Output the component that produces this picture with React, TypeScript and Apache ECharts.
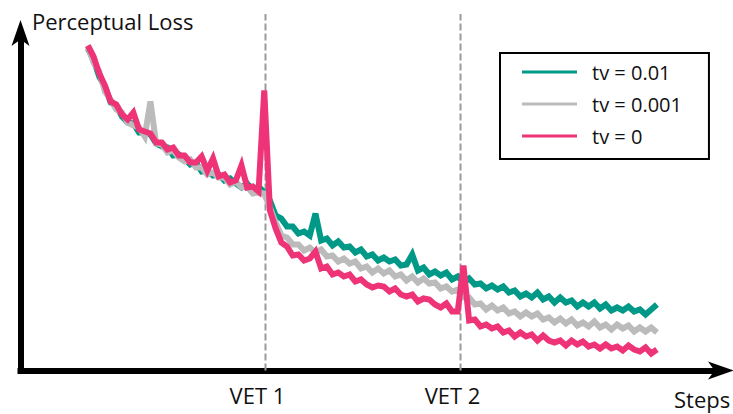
import React, { useEffect, useRef } from "react";
import * as echarts from "echarts";

// Training steps (thousands), sampled every 0.82k from 9.7k
const steps: number[] = Array.from({ length: 101 }, (_, i) => +(9.7 + 0.82 * i).toFixed(2));

// Steps at which a VET event happens
const vetSteps = [35.3, 63.4];
const vetLabels = ["VET 1", "VET 2"];

const seriesNames = ["tv = 0.01", "tv = 0.001", "tv = 0"];
const seriesColors = ["#009988", "#BBBBBB", "#EE3377"];

const lossTv001 = [
  3.22, 3.11, 2.94, 2.84, 2.68, 2.65, 2.54, 2.48, 2.47, 2.38,
  2.38, 2.36, 2.27, 2.24, 2.23, 2.15, 2.16, 2.12, 2.06, 2.08,
  1.99, 2.0, 1.95, 1.96, 1.9, 1.92, 1.87, 1.83, 1.87, 1.8,
  1.84, 1.78, 1.7, 1.55, 1.52, 1.44, 1.44, 1.37, 1.39, 1.35,
  1.57, 1.3, 1.32, 1.25, 1.29, 1.23, 1.24, 1.18, 1.21, 1.14,
  1.16, 1.1, 1.13, 1.09, 1.11, 1.05, 1.06, 1.16, 1.0, 1.03,
  0.96, 0.99, 0.95, 0.98, 0.91, 0.94, 0.88, 0.92, 0.86, 0.87,
  0.82, 0.85, 0.81, 0.84, 0.78, 0.8, 0.74, 0.77, 0.73, 0.78,
  0.71, 0.74, 0.68, 0.73, 0.68, 0.7, 0.64, 0.68, 0.64, 0.68,
  0.62, 0.66, 0.6, 0.63, 0.6, 0.64, 0.59, 0.61, 0.56, 0.61,
  0.66,
];

const lossTv0001 = [
  3.24, 3.08, 2.99, 2.79, 2.71, 2.61, 2.58, 2.48, 2.45, 2.43,
  2.34, 2.69, 2.27, 2.26, 2.18, 2.2, 2.13, 2.09, 2.11, 2.03,
  2.03, 1.96, 1.98, 1.93, 1.93, 1.86, 1.89, 1.83, 1.84, 1.77,
  1.78, 1.77, 1.63, 1.48, 1.35, 1.33, 1.26, 1.26, 1.2, 1.23,
  1.18, 1.21, 1.14, 1.15, 1.09, 1.12, 1.07, 1.09, 1.02, 1.04,
  0.98, 1.02, 0.97, 1.0, 0.94, 0.96, 0.9, 0.94, 0.88, 0.92,
  0.87, 0.88, 0.82, 0.84, 0.79, 0.81, 0.73, 0.73, 0.66, 0.67,
  0.61, 0.65, 0.6, 0.63, 0.57, 0.59, 0.54, 0.58, 0.54, 0.57,
  0.51, 0.53, 0.48, 0.52, 0.47, 0.51, 0.45, 0.48, 0.44, 0.49,
  0.43, 0.46, 0.41, 0.46, 0.42, 0.45, 0.39, 0.43, 0.39, 0.43,
  0.38,
];

const lossTv0 = [
  3.25, 3.14, 2.97, 2.85, 2.69, 2.66, 2.56, 2.51, 2.58, 2.41,
  2.39, 2.37, 2.28, 2.28, 2.21, 2.23, 2.15, 2.15, 2.08, 2.08,
  2.14, 2.0, 2.12, 1.94, 1.96, 1.88, 1.9, 2.05, 1.83, 1.84,
  1.79, 2.8, 1.6, 1.42, 1.28, 1.24, 1.15, 1.16, 1.1, 1.12,
  1.19, 1.02, 1.04, 0.96, 0.98, 0.94, 0.96, 0.89, 0.91, 0.86,
  0.83, 0.85, 0.84, 0.79, 0.82, 0.76, 0.74, 0.76, 0.69, 0.72,
  0.71, 0.66, 0.63, 0.67, 0.59, 0.59, 1.05, 0.5, 0.51, 0.44,
  0.46, 0.42, 0.44, 0.38, 0.4, 0.34, 0.38, 0.34, 0.36, 0.3,
  0.35, 0.3, 0.28, 0.3, 0.25, 0.3, 0.26, 0.29, 0.24, 0.26,
  0.22, 0.26, 0.22, 0.24, 0.2, 0.25, 0.21, 0.19, 0.23, 0.17,
  0.21,
];

const seriesValues = [lossTv001, lossTv0001, lossTv0];

const FONT = "'Open Sans', 'Noto Sans', sans-serif";

export default function App() {
  const ref = useRef<HTMLDivElement>(null);

  useEffect(() => {
    if (!ref.current) return;
    const chart = echarts.init(ref.current, undefined, { renderer: "svg" });

    const axisLineStyle = {
      show: true,
      symbol: ["none", "arrow"],
      symbolSize: [13.5, 26],
      symbolOffset: [0, 16],
      lineStyle: { color: "#000", width: 6, cap: "square" },
    };

    const dataSeries = seriesNames.map((name, k) => ({
      name,
      type: "line",
      xAxisIndex: 0,
      yAxisIndex: 0,
      data: steps.map((s, i) => [s, seriesValues[k][i]]),
      showSymbol: false,
      symbol: "none",
      lineStyle: { width: 6, color: seriesColors[k], join: "miter" },
      itemStyle: { color: seriesColors[k] },
      z: 3 + k,
      silent: true,
    }));

    const vetSeries = vetSteps.map((v, k) => ({
      name: vetLabels[k],
      type: "line",
      xAxisIndex: 1,
      yAxisIndex: 1,
      data: [
        [v, 0],
        [v, 1],
      ],
      showSymbol: false,
      symbol: "none",
      lineStyle: { width: 2, color: "#9a9a9a", type: [7, 3] },
      z: 1,
      silent: true,
    }));

    chart.setOption({
      animation: false,
      textStyle: { fontFamily: FONT },
      grid: [
        { left: 20.5, right: 15, top: 36, bottom: 43.5, outerBoundsMode: "none" },
        { left: 20.5, right: 15, top: 14, bottom: 43.5, outerBoundsMode: "none" },
      ],
      xAxis: [
        {
          type: "value",
          gridIndex: 0,
          min: 0,
          max: 100.5,
          axisLine: axisLineStyle,
          axisTick: { show: false },
          splitLine: { show: false },
          axisLabel: {
            show: true,
            customValues: vetSteps,
            formatter: (val: number) => {
              const idx = vetSteps.findIndex((v) => Math.abs(v - val) < 1e-6);
              return idx >= 0 ? vetLabels[idx] : "";
            },
            fontSize: 22,
            color: "#111",
            fontFamily: FONT,
            margin: 24.5,
            verticalAlign: "middle",
            padding: [0, 16, 0, 0],
          },
        },
        { type: "value", gridIndex: 1, min: 0, max: 100.5, show: false },
      ],
      yAxis: [
        {
          type: "value",
          gridIndex: 0,
          min: 0,
          max: 3.345,
          name: "Perceptual Loss",
          nameLocation: "end",
          nameGap: 15.3,
          nameTextStyle: {
            fontSize: 22,
            color: "#111",
            fontFamily: FONT,
            align: "left",
            verticalAlign: "middle",
            padding: [0, 0, 0, 11.5],
          },
          axisLine: axisLineStyle,
          axisTick: { show: false },
          axisLabel: { show: false },
          splitLine: { show: false },
        },
        { type: "value", gridIndex: 1, min: 0, max: 1, show: false },
      ],
      graphic: [
        {
          type: "text",
          x: 674,
          y: 399,
          style: {
            text: "Steps",
            fontSize: 22,
            fontFamily: FONT,
            fill: "#111",
            align: "left",
            verticalAlign: "middle",
          },
        },
      ],
      legend: {
        data: seriesNames,
        orient: "vertical",
        left: 500,
        top: 53,
        icon: "rect",
        itemWidth: 55,
        itemHeight: 3,
        itemGap: 12,
        padding: [9, 27, 13, 22],
        borderColor: "#000",
        borderWidth: 2,
        backgroundColor: "#fff",
        selectedMode: false,
        textStyle: {
          fontSize: 20,
          lineHeight: 20,
          color: "#111",
          fontFamily: FONT,
          padding: [0, 0, 0, 10],
        },
      },
      series: [...vetSeries, ...dataSeries],
    });

    return () => chart.dispose();
  }, []);

  return (
    <div
      ref={ref}
      style={{ position: "fixed", left: 0, top: 0, width: 733, height: 414, background: "#fff" }}
    />
  );
}
